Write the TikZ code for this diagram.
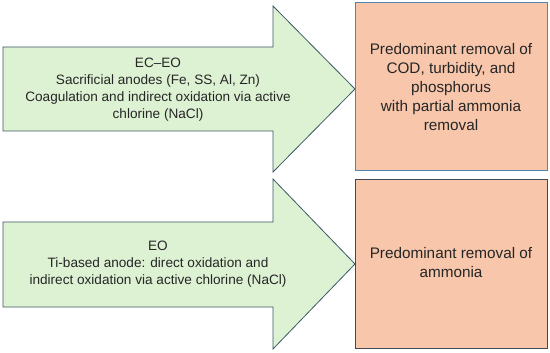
\documentclass[tikz,border=0pt]{standalone}
\usepackage{fontspec}
\setmainfont{Liberation Sans}
\usetikzlibrary{calc}
\definecolor{ArrowFill}{HTML}{DDF1D3}
\definecolor{ArrowLine}{HTML}{3D5866}
\definecolor{BoxFill}{HTML}{F7C6AB}
\definecolor{BoxLineA}{HTML}{4F86B0}
\definecolor{BoxLineB}{HTML}{3F4A55}

\begin{document}
\begin{tikzpicture}[x=1pt,y=-1pt,
  arrowtxt/.style={align=center,font=\fontsize{13.6}{17}\selectfont,text=black!85},
  boxtxt/.style={align=center,font=\fontsize{15.3}{19}\selectfont,text=black!85},
  resbox/.style={fill=BoxFill,line width=1pt}]
\useasboundingbox (0,0) rectangle (550,353);

% upper arrow
\coordinate (A1) at (3,47);
\coordinate (A2) at (273,47);
\coordinate (A3) at (273,6);
\coordinate (A4) at (355,89);
\coordinate (A5) at (273,172);
\coordinate (A6) at (273,131);
\coordinate (A7) at (3,131);
\filldraw[fill=ArrowFill,draw=ArrowLine,line width=0.8pt,line join=miter]
  (A1) -- (A2) -- (A3) -- (A4) -- (A5) -- (A6) -- (A7) -- cycle;

% lower arrow
\coordinate (B1) at (3,222);
\coordinate (B2) at (273,222);
\coordinate (B3) at (273,179);
\coordinate (B4) at (355,264);
\coordinate (B5) at (273,349);
\coordinate (B6) at (273,307);
\coordinate (B7) at (3,307);
\filldraw[fill=ArrowFill,draw=ArrowLine,line width=0.8pt,line join=miter]
  (B1) -- (B2) -- (B3) -- (B4) -- (B5) -- (B6) -- (B7) -- cycle;

% result boxes
\draw[resbox,draw=BoxLineA] (355,3) rectangle (547,171);
\draw[resbox,draw=BoxLineB] (355,180) rectangle (547,348);

\node[arrowtxt] (ecteo) at (158,90)
  {EC--EO\\Sacrificial anodes (Fe, SS, Al, Zn)\\Coagulation and indirect oxidation via active\\chlorine (NaCl)};
\node[arrowtxt] (eo) at (158,264)
  {EO\\Ti-based anode: direct oxidation and\\indirect oxidation via active chlorine (NaCl)};

\node[boxtxt] (resA) at (451,87)
  {Predominant removal of\\COD, turbidity, and\\phosphorus\\with partial ammonia\\removal};
\node[boxtxt] (resB) at (451,263)
  {Predominant removal of\\ammonia};

\end{tikzpicture}
\end{document}
